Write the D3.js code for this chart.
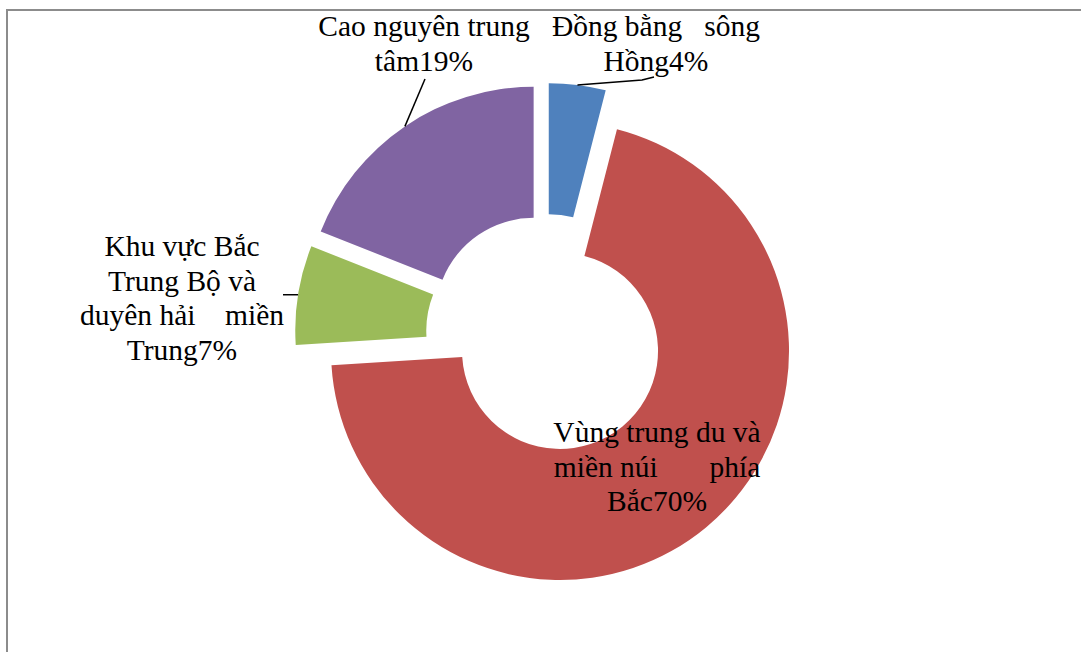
<!DOCTYPE html>
<html>
<head>
<meta charset="utf-8">
<script src="https://cdn.jsdelivr.net/npm/d3@7/dist/d3.min.js"></script>
<style>
  html, body { margin: 0; padding: 0; background: #fff; }
  svg { display: block; }
  text { font-family: "Liberation Serif", "Times New Roman", serif; white-space: pre; }
</style>
</head>
<body>
<svg id="chart" width="1081" height="652"></svg>
<script>
// Regions in drawing order (clockwise from 12 o'clock)
const regions = [
  "Đồng bằng sông Hồng",
  "Vùng trung du và miền núi phía Bắc",
  "Khu vực Bắc Trung Bộ và duyên hải miền Trung",
  "Cao nguyên trung tâm"
];
const shares = [4, 70, 7, 19];
const colors = ["#4F81BD", "#C0504D", "#9BBB59", "#8064A2"];
// Data-label lines for each slice (wide gaps mirror the justified label boxes)
const labelLines = [
  ["Đồng bằng   sông", "Hồng4%"],
  ["Vùng trung du và", "miền núi       phía", "Bắc70%"],
  ["Khu vực Bắc", "Trung Bộ và", "duyên hải    miền", "Trung7%"],
  ["Cao nguyên trung", "tâm19%"]
];

const svg = d3.select("#chart");
const W = 1081, H = 652;

// chart area frame (top and left edges)
svg.append("path")
  .attr("d", `M7,${H} V10 H${W}`)
  .attr("fill", "none")
  .attr("stroke", "#8c8c8c")
  .attr("stroke-width", 2);

const cx = 546, cy = 334;
const outerR = 229, innerR = 98, explode = 22;

const pie = d3.pie().sort(null).value(d => d)(shares);
const arc = d3.arc().innerRadius(innerR).outerRadius(outerR);

const slices = pie.map((p, i) => {
  const mid = (p.startAngle + p.endAngle) / 2;
  const dx = Math.sin(mid) * explode, dy = -Math.cos(mid) * explode;
  return { p, i, mid, dx, dy };
});

const g = svg.append("g").attr("transform", `translate(${cx},${cy})`);

g.selectAll("path.slice")
  .data(slices)
  .join("path")
  .attr("class", "slice")
  .attr("transform", d => `translate(${d.dx},${d.dy})`)
  .attr("d", d => arc(d.p))
  .attr("fill", d => colors[d.i]);

// point on the outer rim at the middle of a slice, page coordinates
function rimPoint(s) {
  return [cx + s.dx + Math.sin(s.mid) * outerR, cy + s.dy - Math.cos(s.mid) * outerR];
}

// label placement: center x, first baseline y
const fontSize = 29.5, lineH = 34.5;
const labelPos = [
  { x: 656, y: 36 },
  { x: 657, y: 442 },
  { x: 182, y: 256 },
  { x: 424, y: 36 }
];

// leader lines
const line = d3.line();
const leaders = [
  s => { const a = rimPoint(s); return [a, [642, 80], [654, 77]]; },
  null,
  s => { const a = rimPoint(s); return [a, [283, a[1]]]; },
  s => { const a = rimPoint(s); return [a, [425, 79]]; }
];
slices.forEach((s, i) => {
  if (!leaders[i]) return;
  svg.append("path")
    .attr("d", line(leaders[i](s)))
    .attr("fill", "none")
    .attr("stroke", "#000")
    .attr("stroke-width", 1.5);
});

labelLines.forEach((lines, i) => {
  const t = svg.append("text")
    .attr("text-anchor", "middle")
    .attr("font-size", fontSize)
    .attr("fill", "#000");
  lines.forEach((ln, k) => {
    t.append("tspan")
      .attr("x", labelPos[i].x)
      .attr("y", labelPos[i].y + k * lineH)
      .text(ln);
  });
});
</script>
</body>
</html>
